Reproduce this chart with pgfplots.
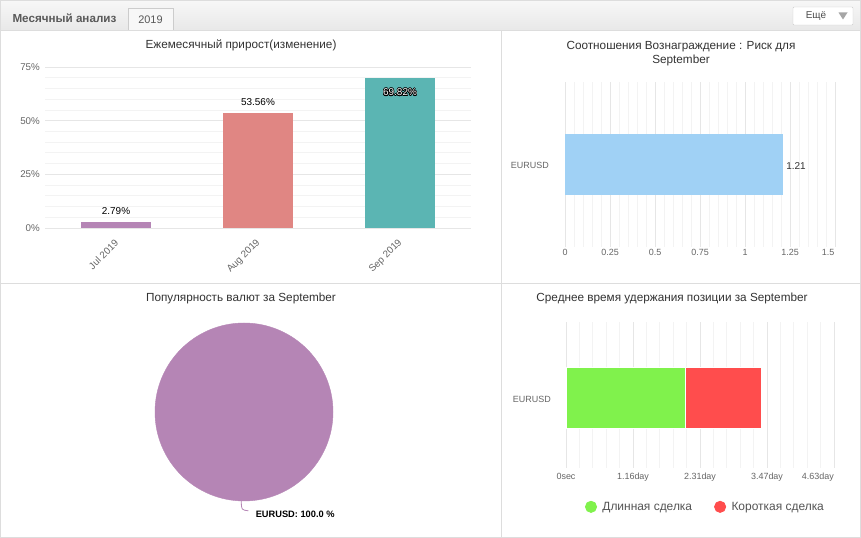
\documentclass[border=0pt]{standalone}
\usepackage{fontspec}
\setmainfont{Liberation Sans}
\usepackage{pgfplots}
\pgfplotsset{compat=1.18}
\usepackage{contour}
\contourlength{0.6pt}
\definecolor{cjul}{HTML}{B585B5}
\definecolor{caug}{HTML}{E08683}
\definecolor{csep}{HTML}{5BB5B3}
\definecolor{cblue}{HTML}{A0D1F5}
\definecolor{cgreen}{HTML}{80F24C}
\definecolor{cred}{HTML}{FF4D4D}
\definecolor{gridmaj}{HTML}{E6E6E6}
\definecolor{gridmin}{HTML}{F3F3F3}
\definecolor{ticktxt}{HTML}{666666}
\definecolor{titletxt}{HTML}{333333}
\definecolor{framec}{HTML}{DDDDDD}
\pgfplotsset{
  dash/.style={scale only axis, anchor=south west,
    axis line style={draw=none}, major tick length=0pt, minor tick length=0pt,
    major grid style={gridmaj, line width=0.8bp},
    minor grid style={gridmin, line width=0.8bp},
    ticklabel style={text=ticktxt},
    /pgf/number format/assume math mode=true},
}
\begin{document}
\begin{tikzpicture}
\begin{scope}[x=1bp,y=1bp]
\useasboundingbox (0,0) rectangle (861,538);
\fill[white] (0,0) rectangle (861,538);
% header
\shade[top color=white!97!black, bottom color=white!91!black] (0,508) rectangle (861,538);
\draw[framec] (0,508) -- (861,508);
\fill[white!97!black] (128,508) rectangle (173,530);
\draw[white!80!black] (128,508) -- (128,530) -- (173,530) -- (173,508);
\node[font=\fontsize{11}{13}\selectfont, text=white!35!black] at (150.5,518.5) {2019};
\node[anchor=west, font=\fontsize{11.7}{14}\selectfont\bfseries, text=white!35!black] at (9,520) {Месячный анализ};
\draw[white!80!black, fill=white, rounded corners=1bp] (793,513) rectangle (853,531);
\node[font=\fontsize{10}{12}\selectfont, text=white!30!black] at (816,522) {Ещё};
\fill[white!65!black] (838.5,525.5) -- (847.5,525.5) -- (843,518.5) -- cycle;
% frame and dividers
\draw[framec] (0.5,0.5) rectangle (860.5,537.5);
\draw[framec] (501,0) -- (501,508);
\draw[framec] (0,255) -- (861,255);
% titles
\node[font=\fontsize{11.8}{14}\selectfont, text=titletxt] at (241,492.5) {Ежемесячный прирост(изменение)};
\node[font=\fontsize{11.8}{14}\selectfont, text=titletxt, align=center] at (681,484) {Соотношения Вознаграждение : Риск для\\September};
\node[font=\fontsize{11.8}{14}\selectfont, text=titletxt] at (241,239.5) {Популярность валют за September};
\node[font=\fontsize{11.8}{14}\selectfont, text=titletxt] at (672,239.5) {Среднее время удержания позиции за September};
\end{scope}

% Panel 1
\begin{axis}[dash, at={(45bp,310bp)}, width=426bp, height=161bp,
  xmin=-0.5, xmax=2.5, ymin=0, ymax=75,
  ymajorgrids, yminorgrids, minor y tick num=4,
  ytick={0,25,50,75}, yticklabels={0\%,25\%,50\%,75\%},
  xtick={0,1,2}, xticklabels={Jul 2019,Aug 2019,Sep 2019},
  ticklabel style={font=\fontsize{9.8}{12}\selectfont},
  xticklabel style={rotate=45, anchor=east, inner sep=0pt, yshift=-10bp, xshift=-9bp},
  yticklabel style={inner sep=0pt, xshift=-5bp},
  ybar, bar width=70bp, bar shift=0pt, clip=false,
  nodes near coords style={font=\fontsize{10}{12}\selectfont, text=black},
]
\addplot[fill=cjul, draw=none, nodes near coords={\pgfmathprintnumber[fixed,fixed zerofill,precision=2]{\pgfplotspointmeta}\%}, every node near coord/.append style={yshift=4bp}] coordinates {(0,2.79)};
\addplot[fill=caug, draw=none, nodes near coords={\pgfmathprintnumber[fixed,fixed zerofill,precision=2]{\pgfplotspointmeta}\%}, every node near coord/.append style={yshift=4bp}] coordinates {(1,53.56)};
\addplot[fill=csep, draw=none, nodes near coords={\contour{black}{\textcolor{white}{\pgfmathprintnumber[fixed,fixed zerofill,precision=2]{\pgfplotspointmeta}\%}}}, nodes near coords align={below}, every node near coord/.append style={yshift=-7bp}] coordinates {(2,69.82)};
\end{axis}

% Panel 2
\begin{axis}[dash, at={(565bp,291.3bp)}, width=270bp, height=165bp,
  xmin=0, xmax=1.5, ymin=-0.5, ymax=0.5,
  xmajorgrids, xminorgrids, minor x tick num=4,
  xtick={0,0.25,0.5,0.75,1,1.25,1.5}, xticklabels={0,0.25,0.5,0.75,1,1.25,},
  extra x ticks={1.5}, extra x tick labels={1.5},
  extra x tick style={xticklabel style={xshift=-7bp}},
  ytick={0}, yticklabels={EURUSD},
  ticklabel style={font=\fontsize{9}{11}\selectfont},
  xticklabel style={inner sep=0pt, yshift=-2bp},
  yticklabel style={inner sep=0pt, xshift=-16bp, yshift=-1.5bp},
  xbar, bar width=61bp, bar shift=0pt, clip=false,
  point meta=x,
  nodes near coords style={font=\fontsize{10}{12}\selectfont, text=titletxt, yshift=-2bp},
]
\addplot[fill=cblue, draw=none, nodes near coords] coordinates {(1.21,0)};
\end{axis}

% Panel 3 pie
\begin{axis}[at={(244bp,126bp)}, anchor=center, scale only axis, width=178bp, height=178bp,
  xmin=-1, xmax=1, ymin=-1, ymax=1, hide axis, clip=false]
\addplot[only marks, color=cjul, mark=*, mark size=89bp, mark options={fill=cjul, draw=cjul}] coordinates {(0,0)};
\draw[cjul, line width=0.8bp] (axis cs:-0.03,-1.0) .. controls (axis cs:-0.03,-1.1) .. (axis cs:0.05,-1.11);
\node[anchor=west, inner sep=0pt, font=\fontsize{9.3}{11}\selectfont\bfseries, text=black] at (axis cs:0.13,-1.145) {EURUSD: 100.0 \%};
\end{axis}

% Panel 4
\begin{axis}[dash, at={(566bp,70bp)}, width=268bp, height=146bp,
  xmin=0, xmax=400000, ymin=-0.483, ymax=0.517,
  xmajorgrids, xminorgrids, minor x tick num=4,
  xtick={0,100000,200000,300000,400000}, xticklabels={0sec,1.16day,2.31day,3.47day,},
  extra x ticks={400000}, extra x tick labels={4.63day},
  extra x tick style={xticklabel style={anchor=north east}},
  scaled x ticks=false,
  ytick={0}, yticklabels={EURUSD},
  ticklabel style={font=\fontsize{9}{11}\selectfont},
  xticklabel style={inner sep=0pt, yshift=-5bp},
  yticklabel style={inner sep=0pt, xshift=-15bp, yshift=-2bp},
  xbar stacked, bar width=61bp, clip=false,
  legend columns=2,
  legend style={draw=none, fill=none, at={(0.059,-0.266)}, anchor=west,
    font=\fontsize{12}{14}\selectfont, text=white!33!black,
    /tikz/every even column/.append style={column sep=20bp}},
]
\addplot[fill=cgreen, draw=white, line width=0.8bp,
  legend image code/.code={\fill[cgreen] (0,0) circle (5.6bp); \path (9bp,0);}] coordinates {(177600,0)};
\addplot[fill=cred, draw=white, line width=0.8bp,
  legend image code/.code={\fill[cred] (0,0) circle (5.6bp); \path (9bp,0);}] coordinates {(113400,0)};
\legend{Длинная сделка, Короткая сделка}
\end{axis}
\end{tikzpicture}
\end{document}
